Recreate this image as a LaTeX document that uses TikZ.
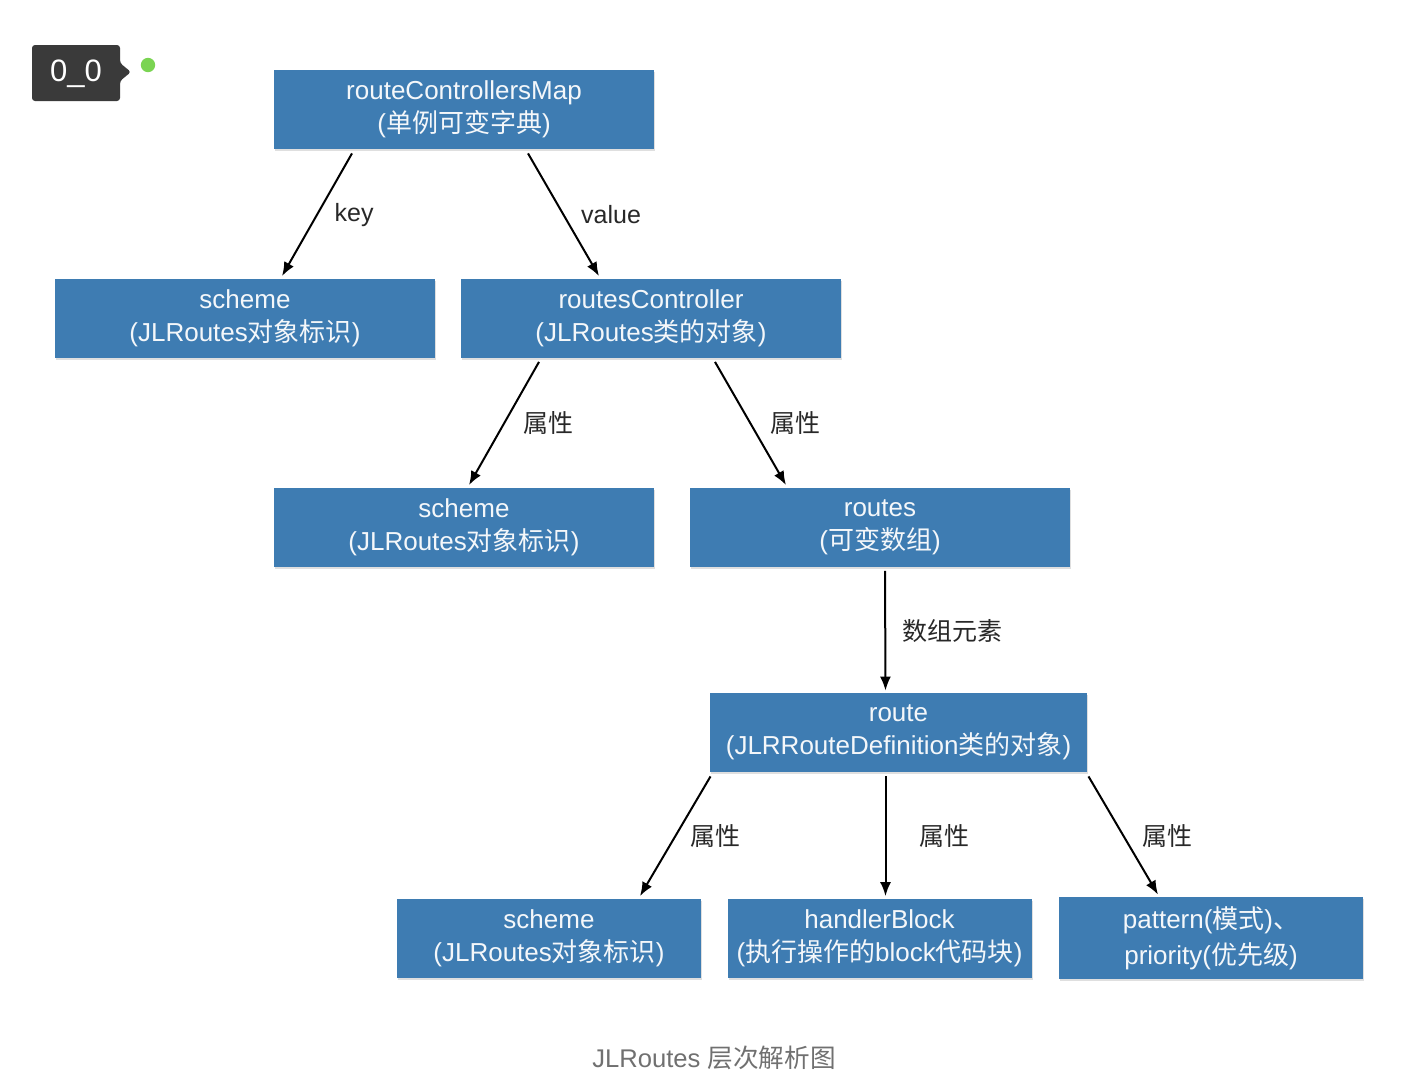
\documentclass[tikz,border=0pt]{standalone}
\usepackage{fontspec}
\setmainfont{Liberation Sans}
\newfontfamily\zh{Noto Sans CJK SC}
\usetikzlibrary{arrows.meta,shadows}
\definecolor{boxblue}{RGB}{62,124,178}
\definecolor{badgegray}{RGB}{58,58,58}
\definecolor{dotgreen}{RGB}{122,212,82}
\definecolor{labgray}{RGB}{40,40,40}
\definecolor{capgray}{RGB}{112,112,112}
\begin{document}
\begin{tikzpicture}[x=0.5pt,y=-0.5pt,
	box/.style={fill=boxblue, text=white!94!boxblue, align=center,
		minimum width=190pt, minimum height=39.5pt, inner sep=0pt,
		font=\fontsize{13}{16.5}\selectfont,
		drop shadow={opacity=0.25, shadow xshift=0.6pt, shadow yshift=-1.2pt}},
	smallbox/.style={box, minimum width=152pt},
	link/.style={-{Latex[length=7pt,width=5.5pt]}, line width=1pt, black},
	lab/.style={midway, right, xshift=5pt, text=labgray, font=\fontsize{12.5}{15}\selectfont}]
	\useasboundingbox (0,0) rectangle (1408,1082);
	% badge
		\fill[badgegray, rounded corners=1.5pt] (32,45) -- (120,45) -- (120,63) -- (131,72)
			-- (120,81) -- (120,101) -- (32,101) -- cycle;
		\node[text=white, font=\fontsize{15.5}{18}\selectfont] (badge) at (76,74) {0\_0};
		\fill[dotgreen] (148,65) circle (3.6pt);
	% boxes
		\node[box] (map) at (464,109.5) {routeControllersMap\\({\zh 单例可变字典})};
		\node[box] (sch1) at (245,318) {scheme\\(JLRoutes{\zh 对象标识})};
		\node[box] (ctrl) at (651,318) {routesController\\(JLRoutes{\zh 类的对象})};
		\node[box] (sch2) at (464,527) {scheme\\(JLRoutes{\zh 对象标识})};
		\node[box] (routes) at (880,527) {routes\\({\zh 可变数组})};
		\node[box, minimum width=188.5pt] (route) at (898.5,732.5) {route\\(JLRRouteDefinition{\zh 类的对象})};
		\node[smallbox] (sch3) at (549,938) {scheme\\(JLRoutes{\zh 对象标识})};
		\node[smallbox] (block) at (879.5,938) {handlerBlock\\({\zh 执行操作的}block{\zh 代码块})};
		\node[smallbox, minimum height=41pt, font=\fontsize{13}{18}\selectfont] (pat) at (1211,938)
			{pattern({\zh 模式}){\zh 、}\\priority({\zh 优先级})};
	% links
		\foreach \a/\sa/\b/\sb/\lx/\lab in {map/-56/sch1/18.5/5/key, map/32/ctrl/-26/5/value,
				ctrl/-56/sch2/2.5/6/{\zh 属性}, ctrl/32/routes/-47/6/{\zh 属性},
				routes/2.5/route/-6.5/5/{\zh 数组元素}, route/-94/sch3/45.5/4/{\zh 属性},
				route/-6.5/block/3/13/{\zh 属性}, route/95/pat/-26.5/6/{\zh 属性}}{
			\draw[link] ([xshift=\sa pt, yshift=-2pt]\a.south) -- ([xshift=\sb pt, yshift=1pt]\b.north)
				node[lab, xshift=\lx pt-5pt] {\lab};
			}
	% caption
		\node[text=capgray, font=\fontsize{12.8}{15}\selectfont] (cap) at (714,1058) {JLRoutes {\zh 层次解析图}};
\end{tikzpicture}
\end{document}
